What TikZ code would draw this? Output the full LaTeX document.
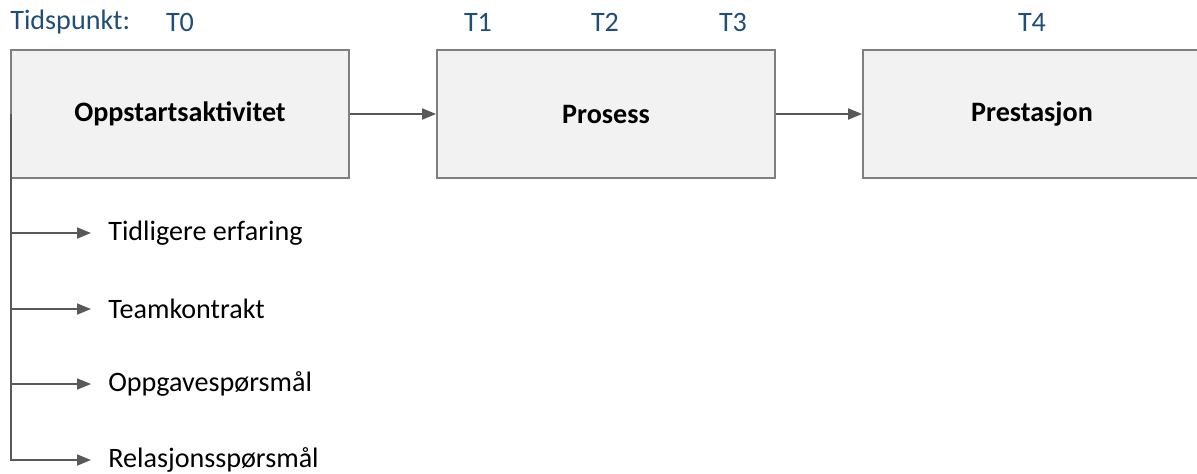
\documentclass[tikz,border=0pt]{standalone}
\usepackage{fontspec}
\setmainfont{Carlito}
\usepackage{xcolor}
\usepackage{tikz}
\usetikzlibrary{arrows.meta, positioning, calc}

\definecolor{boxfill}{RGB}{242,242,242}
\definecolor{boxline}{RGB}{127,127,127}
\definecolor{arrowgray}{RGB}{89,89,89}
\definecolor{timeblue}{RGB}{31,78,121}

\begin{document}
\begin{tikzpicture}[
    node distance=8.52cm,
    phase/.style={rectangle, draw=boxline, line width=1pt, fill=boxfill, minimum width=6.76cm, minimum height=2.56cm, font=\fontsize{16}{19}\selectfont\bfseries},
    time/.style={text=timeblue, font=\fontsize{16}{19}\selectfont},
    item/.style={font=\fontsize{16}{19}\selectfont, anchor=west, inner sep=0pt},
    line/.style={draw=arrowgray, line width=1pt, -{Triangle[length=0.28cm, width=0.22cm]}}
]
    \clip (0,0) rectangle (23.94,-9.46);

    % Phases
    \node [phase] (oppstart) at (3.6,-2.28) {Oppstartsaktivitet};
    \node [phase, right of=oppstart] (prosess) {Prosess};
    \node [phase, right of=prosess] (prestasjon) {Prestasjon};

    % Time points
    \node [time, anchor=west, inner sep=0pt] (tidspunkt) at (0.2,-0.44) {Tidspunkt:};
    \node [time] (t0) at (oppstart |- tidspunkt) {T0};
    \node [time] (t2) at ([xshift=-0.02cm]prosess |- tidspunkt) {T2};
    \node [time, left=2.54cm of t2.center, anchor=center] (t1) {T1};
    \node [time, right=2.56cm of t2.center, anchor=center] (t3) {T3};
    \node [time] (t4) at (prestasjon |- tidspunkt) {T4};

    % Start-up activities
    \node [item] (erfaring) at (2.16,-4.66) {Tidligere erfaring};
    \node [item, below=1.52cm of erfaring.west, anchor=west] (kontrakt) {Teamkontrakt};
    \node [item, below=1.5cm of kontrakt.west, anchor=west] (oppgave) {Oppgavespørsmål};
    \node [item, below=1.52cm of oppgave.west, anchor=west] (relasjon) {Relasjonsspørsmål};

    % Connections
    \draw [line] (oppstart) -- (prosess);
    \draw [line] (prosess) -- (prestasjon);

    \draw [line, shorten >=0.34cm] ([xshift=0.02cm]oppstart.west) |- (erfaring.west);
    \draw [line, shorten >=0.34cm] ([xshift=0.02cm]oppstart.west) |- (kontrakt.west);
    \draw [line, shorten >=0.34cm] ([xshift=0.02cm]oppstart.west) |- (oppgave.west);
    \draw [line, shorten >=0.34cm] ([xshift=0.02cm]oppstart.west) |- (relasjon.west);
\end{tikzpicture}
\end{document}
